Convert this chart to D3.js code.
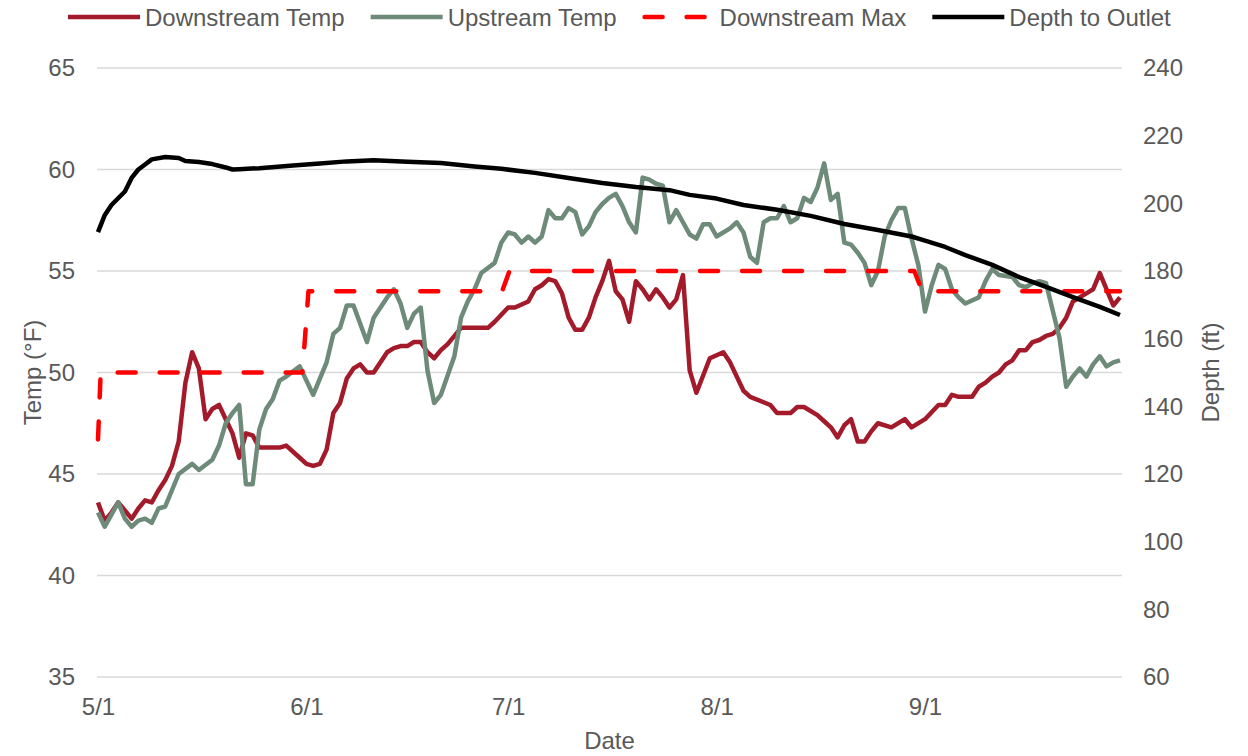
<!DOCTYPE html>
<html>
<head>
<meta charset="utf-8">
<script src="https://cdn.jsdelivr.net/npm/d3@7"></script>
<style>
    body { margin: 0; background: #fff; }
    svg text { font-family: Arial, "Liberation Sans", sans-serif; fill: #595959; }
</style>
</head>
<body>
<svg id="chart" width="1248" height="756"></svg>
<script>
// Day offsets count from 5/1
const dateDomain = ["5/1", "9/30"];
const dateTicks = ["5/1", "6/1", "7/1", "8/1", "9/1"];
const tempTicks = [35, 40, 45, 50, 55, 60, 65];
const depthTicks = [60, 80, 100, 120, 140, 160, 180, 200, 220, 240];
const seriesNames = ["Downstream Temp", "Upstream Temp", "Downstream Max", "Depth to Outlet"];

const downstreamTemp = [
    [0, 43.6], [1, 42.7], [2, 43.1], [3, 43.6], [4, 43.2], [5, 42.8], [6, 43.3], [7, 43.7], [8, 43.6], [9, 44.2],
    [10, 44.7], [11, 45.4], [12, 46.6], [13, 49.5], [14, 51.0], [15, 50.2], [16, 47.7], [17, 48.2], [18, 48.4], [19, 47.7],
    [20, 47.0], [21, 45.8], [22, 47.0], [23, 46.9], [24, 46.3], [27, 46.3], [28, 46.4], [30, 45.8], [31, 45.5], [32, 45.4],
    [33, 45.5], [34, 46.2], [35, 48.0], [36, 48.5], [37, 49.7], [38, 50.2], [39, 50.4], [40, 50.0], [41, 50.0], [43, 51.0],
    [44, 51.2], [45, 51.3], [46, 51.3], [47, 51.5], [48, 51.5], [49, 51.0], [50, 50.7], [51, 51.1], [52, 51.4], [54, 52.2],
    [58, 52.2], [59, 52.5], [61, 53.2], [62, 53.2], [64, 53.5], [65, 54.1], [66, 54.3], [67, 54.6], [68, 54.5], [69, 53.9],
    [70, 52.7], [71, 52.1], [72, 52.1], [73, 52.7], [74, 53.7], [75, 54.5], [76, 55.5], [77, 54.0], [78, 53.6], [79, 52.5],
    [80, 54.5], [81, 54.1], [82, 53.6], [83, 54.1], [84, 53.7], [85, 53.2], [86, 53.6], [87, 54.8], [88, 50.1], [89, 49.0],
    [91, 50.7], [93, 51.0], [94, 50.5], [96, 49.1], [97, 48.8], [100, 48.4], [101, 48.0], [103, 48.0], [104, 48.3], [105, 48.3],
    [107, 47.9], [108, 47.6], [109, 47.3], [110, 46.8], [111, 47.4], [112, 47.7], [113, 46.6], [114, 46.6], [115, 47.1], [116, 47.5],
    [118, 47.3], [120, 47.7], [121, 47.3], [123, 47.7], [125, 48.4], [126, 48.4], [127, 48.9], [128, 48.8], [130, 48.8], [131, 49.3],
    [132, 49.5], [133, 49.8], [134, 50.0], [135, 50.4], [136, 50.6], [137, 51.1], [138, 51.1], [139, 51.5], [140, 51.6], [141, 51.8],
    [142, 51.9], [143, 52.2], [144, 52.7], [145, 53.5], [146, 53.7], [147, 53.9], [148, 54.1], [149, 54.9], [150, 54.1], [151, 53.3],
    [152, 53.7]
];

const upstreamTemp = [
    [0, 43.1], [1, 42.4], [2, 43.0], [3, 43.6], [4, 42.8], [5, 42.4], [6, 42.7], [7, 42.8], [8, 42.6], [9, 43.3],
    [10, 43.4], [11, 44.2], [12, 45.0], [14, 45.5], [15, 45.2], [17, 45.7], [18, 46.4], [19, 47.5], [20, 48.0], [21, 48.4],
    [22, 44.5], [23, 44.5], [24, 47.2], [25, 48.2], [26, 48.7], [27, 49.6], [28, 49.8], [30, 50.3], [32, 48.9], [34, 50.5],
    [35, 51.9], [36, 52.2], [37, 53.3], [38, 53.3], [39, 52.4], [40, 51.5], [41, 52.7], [43, 53.7], [44, 54.1], [45, 53.4],
    [46, 52.2], [47, 52.9], [48, 53.2], [49, 50.1], [50, 48.5], [51, 48.9], [53, 50.8], [54, 52.7], [55, 53.5], [56, 54.1],
    [57, 54.9], [59, 55.4], [60, 56.4], [61, 56.9], [62, 56.8], [63, 56.4], [64, 56.7], [65, 56.4], [66, 56.7], [67, 58.0],
    [68, 57.6], [69, 57.6], [70, 58.1], [71, 57.9], [72, 56.8], [73, 57.2], [74, 57.9], [75, 58.3], [76, 58.6], [77, 58.8],
    [78, 58.2], [79, 57.4], [80, 56.9], [81, 59.6], [82, 59.5], [83, 59.3], [84, 59.2], [85, 57.4], [86, 58.0], [87, 57.4],
    [88, 56.8], [89, 56.6], [90, 57.3], [91, 57.3], [92, 56.7], [94, 57.1], [95, 57.4], [96, 56.9], [97, 55.7], [98, 55.4],
    [99, 57.4], [100, 57.6], [101, 57.6], [102, 58.2], [103, 57.4], [104, 57.6], [105, 58.6], [106, 58.4], [107, 59.1], [108, 60.3],
    [109, 58.5], [110, 58.8], [111, 56.4], [112, 56.3], [113, 55.9], [114, 55.4], [115, 54.3], [116, 55.0], [117, 56.7], [118, 57.5],
    [119, 58.1], [120, 58.1], [121, 56.6], [122, 55.3], [123, 53.0], [124, 54.3], [125, 55.3], [126, 55.1], [127, 54.1], [128, 53.7],
    [129, 53.4], [131, 53.7], [132, 54.5], [133, 55.1], [134, 54.8], [136, 54.7], [137, 54.3], [138, 54.2], [139, 54.4], [140, 54.5],
    [141, 54.4], [143, 51.7], [144, 49.3], [145, 49.8], [146, 50.2], [147, 49.8], [148, 50.4], [149, 50.8], [150, 50.3], [151, 50.5],
    [152, 50.6]
];

const downstreamMax = [
    [0, 46.7], [0.4, 50], [30.4, 50], [31.3, 54], [60.1, 54], [61.2, 55], [121.4, 55], [122.6, 54], [152, 54]
];

const depthToOutlet = [
    [0, 191.5], [1, 196.5], [2, 199.5], [3, 201.5], [4, 203.5], [5, 207.5], [6, 210.0], [7, 211.5], [8, 213.0], [10, 213.7],
    [12, 213.4], [13, 212.5], [15, 212.2], [17, 211.6], [19, 210.6], [20, 210.0], [21, 210.1], [24, 210.4], [29, 211.2], [33, 211.8],
    [37, 212.4], [41, 212.7], [46, 212.3], [51, 211.9], [56, 210.9], [60, 210.2], [65, 209.0], [70, 207.5], [75, 206.0], [80, 204.8],
    [85, 203.9], [88, 202.5], [92, 201.4], [96, 199.5], [101, 198.1], [106, 196.3], [111, 193.9], [116, 192.1], [121, 190.2], [123, 189.0],
    [126, 187.1], [129, 184.7], [133, 181.8], [137, 178.2], [141, 175.3], [145, 172.3], [149, 169.4], [152, 167.0]
];

// Styling
const colors = ["#a31b2b", "#6e8a79", "#ff0000", "#000000"];
const gridColor = "#d9d9d9";
const fontSize = 24;
const plot = { left: 97, right: 1122, top: 68, bottom: 677 };

const svg = d3.select("#chart");

const parseDate = d3.utcParse("%m/%d/%Y");
const toDate = (label) => parseDate(label + "/2019");
const dayToDate = (day) => new Date(toDate("5/1").getTime() + day * 864e5);

const x = d3.scaleUtc()
            .domain(dateDomain.map(toDate))
            .range([plot.left + 1, plot.right - 2]);
const yTemp = d3.scaleLinear().domain([35, 65]).range([plot.bottom, plot.top]);
const yDepth = d3.scaleLinear().domain([60, 240]).range([plot.bottom, plot.top]);

drawGrid();
drawAxes();
drawSeries();
drawLegend();

// Horizontal gridlines
function drawGrid() {
    svg.append("g")
       .selectAll("line")
       .data(tempTicks)
       .enter()
       .append("line")
       .attr("x1", plot.left)
       .attr("x2", plot.right)
       .attr("y1", (d) => yTemp(d))
       .attr("y2", (d) => yTemp(d))
       .attr("stroke", gridColor)
       .attr("stroke-width", 1.5);
}

// Tick labels and axis titles
function drawAxes() {
    let left = svg.append("g")
                  .attr("transform", `translate(${plot.left},0)`)
                  .call(d3.axisLeft(yTemp).tickValues(tempTicks).tickSize(0).tickPadding(22));
    let right = svg.append("g")
                   .attr("transform", `translate(${plot.right},0)`)
                   .call(d3.axisRight(yDepth).tickValues(depthTicks).tickSize(0).tickPadding(21));
    let bottom = svg.append("g")
                    .attr("transform", `translate(0,${plot.bottom})`)
                    .call(d3.axisBottom(x)
                            .tickValues(dateTicks.map(toDate))
                            .tickFormat((d, i) => dateTicks[i])
                            .tickSize(0)
                            .tickPadding(21));

    [left, right, bottom].forEach((g) => {
        g.select(".domain").remove();
        g.attr("font-family", null).attr("font-size", null);
        g.selectAll("text").style("font-size", fontSize + "px");
    });

    svg.append("text")
       .attr("transform", `translate(41,${(plot.top + plot.bottom) / 2}) rotate(-90)`)
       .attr("text-anchor", "middle")
       .style("font-size", fontSize + "px")
       .text("Temp (°F)");

    svg.append("text")
       .attr("transform", `translate(1219,${(plot.top + plot.bottom) / 2}) rotate(-90)`)
       .attr("text-anchor", "middle")
       .style("font-size", fontSize + "px")
       .text("Depth (ft)");

    svg.append("text")
       .attr("x", (plot.left + plot.right) / 2)
       .attr("y", 749)
       .attr("text-anchor", "middle")
       .style("font-size", fontSize + "px")
       .text("Date");
}

// Draws one series path
function drawLine(data, yScale, color, dashed) {
    let line = d3.line()
                 .x((d) => x(dayToDate(d[0])))
                 .y((d) => yScale(d[1]));

    let path = svg.append("path")
                  .datum(data)
                  .attr("d", line)
                  .attr("fill", "none")
                  .attr("stroke", color)
                  .attr("stroke-width", 4.5)
                  .attr("stroke-linejoin", "round");

    if (dashed) {
        path.attr("stroke-dasharray", "18,24")
            .attr("stroke-linecap", "round");
    }
}

function drawSeries() {
    drawLine(downstreamTemp, yTemp, colors[0], false);
    drawLine(upstreamTemp, yTemp, colors[1], false);
    drawLine(downstreamMax, yTemp, colors[2], true);
    drawLine(depthToOutlet, yDepth, colors[3], false);
}

// Legend along the top
function drawLegend() {
    let xPos = 68;
    const yPos = 17;

    seriesNames.forEach((name, i) => {
        let sample = svg.append("line")
                        .attr("x1", xPos)
                        .attr("x2", xPos + 72)
                        .attr("y1", yPos)
                        .attr("y2", yPos)
                        .attr("stroke", colors[i])
                        .attr("stroke-width", 4.5);
        if (i === 2) {
            sample.attr("x1", xPos + 2)
                  .attr("stroke-dasharray", "18,24")
                  .attr("stroke-linecap", "round");
        }

        let label = svg.append("text")
                       .attr("x", xPos + 77)
                       .attr("y", yPos + 8.5)
                       .style("font-size", fontSize + "px")
                       .text(name);

        xPos += 77 + label.node().getComputedTextLength() + 26;
    });
}
</script>
</body>
</html>
